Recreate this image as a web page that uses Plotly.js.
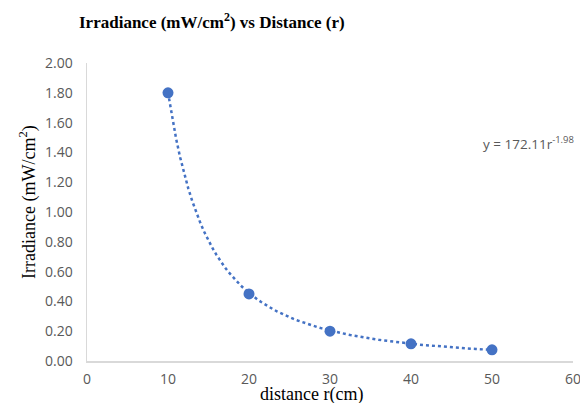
<!DOCTYPE html>
<html>
<head>
<meta charset="utf-8">
<script src="https://cdn.plot.ly/plotly-3.0.1.min.js"></script>
<style>html,body{margin:0;padding:0;background:#fff}#chart{width:580px;height:403px}</style>
</head>
<body>
<div id="chart"></div>
<script>
// Data
const distance = [10, 20, 30, 40, 50];
const irradiance = [1.80, 0.45, 0.20, 0.115, 0.075];
const xTicks = [0, 10, 20, 30, 40, 50, 60];
const yTicks = [0, 0.2, 0.4, 0.6, 0.8, 1.0, 1.2, 1.4, 1.6, 1.8, 2.0];
// Power trendline shown on the chart: y = 172.11 r^-1.98
const fitCoef = 172.11;
const fitExp = -1.98;

const fitX = [];
const fitY = [];
for (let i = 0; i <= 80; i++) {
  const x = distance[0] + (distance[distance.length - 1] - distance[0]) * i / 80;
  fitX.push(x);
  fitY.push(fitCoef * Math.pow(x, fitExp));
}

const traces = [
  {
    x: fitX, y: fitY, mode: 'lines', type: 'scatter',
    line: {color: '#4472C4', width: 2.5, dash: 'dot'},
    hoverinfo: 'skip', showlegend: false
  },
  {
    x: distance, y: irradiance, mode: 'markers', type: 'scatter',
    marker: {color: '#4472C4', size: 11},
    showlegend: false
  }
];

const serif = '"Liberation Serif", "Times New Roman", serif';
const sans = '"Open Sans", "Liberation Sans", sans-serif';

const layout = {
  width: 580, height: 403,
  margin: {l: 87, r: 7, t: 63, b: 42},
  paper_bgcolor: '#ffffff', plot_bgcolor: '#ffffff',
  showlegend: false,
  xaxis: {
    range: [0, 60], tickvals: xTicks, ticktext: xTicks.map(String),
    showgrid: false, zeroline: false,
    showline: true, linecolor: '#d9d9d9', linewidth: 1.5,
    ticks: 'outside', ticklen: 5, tickcolor: 'rgba(0,0,0,0)',
    ticklabeloverflow: 'allow',
    tickfont: {family: sans, size: 14, color: '#595959'}
  },
  yaxis: {
    range: [0, 2.0], tickvals: yTicks, ticktext: yTicks.map(v => v.toFixed(2)),
    showgrid: false, zeroline: false,
    showline: true, linecolor: '#d9d9d9', linewidth: 1.5,
    ticks: 'outside', ticklen: 10, tickcolor: 'rgba(0,0,0,0)',
    tickfont: {family: sans, size: 14, color: '#595959'}
  },
  annotations: [
    {
      text: '<b>Irradiance (mW/cm<sup>2</sup>) vs Distance (r)</b>',
      xref: 'paper', yref: 'paper', x: -0.02, y: 1, yshift: 42,
      xanchor: 'left', yanchor: 'middle', showarrow: false,
      font: {family: serif, size: 17, color: '#000000'}
    },
    {
      text: 'distance r(cm)',
      xref: 'paper', yref: 'paper', x: 0.462, y: 0, yshift: -33,
      xanchor: 'center', yanchor: 'middle', showarrow: false,
      font: {family: serif, size: 18, color: '#000000'}
    },
    {
      text: 'Irradiance (mW/cm<sup>2</sup>)',
      xref: 'paper', yref: 'paper', x: 0, y: 0.5, xshift: -59, yshift: 10,
      xanchor: 'center', yanchor: 'middle', textangle: -90, showarrow: false,
      font: {family: serif, size: 18, color: '#000000'}
    },
    {
      text: 'y = 172.11r<sup>-1.98</sup>',
      xref: 'paper', yref: 'paper', x: 1, xshift: 3, y: 0.73,
      xanchor: 'right', yanchor: 'middle', showarrow: false,
      font: {family: sans, size: 13.5, color: '#595959'}
    }
  ]
};

Plotly.newPlot('chart', traces, layout, {displayModeBar: false, staticPlot: true});
</script>
</body>
</html>
